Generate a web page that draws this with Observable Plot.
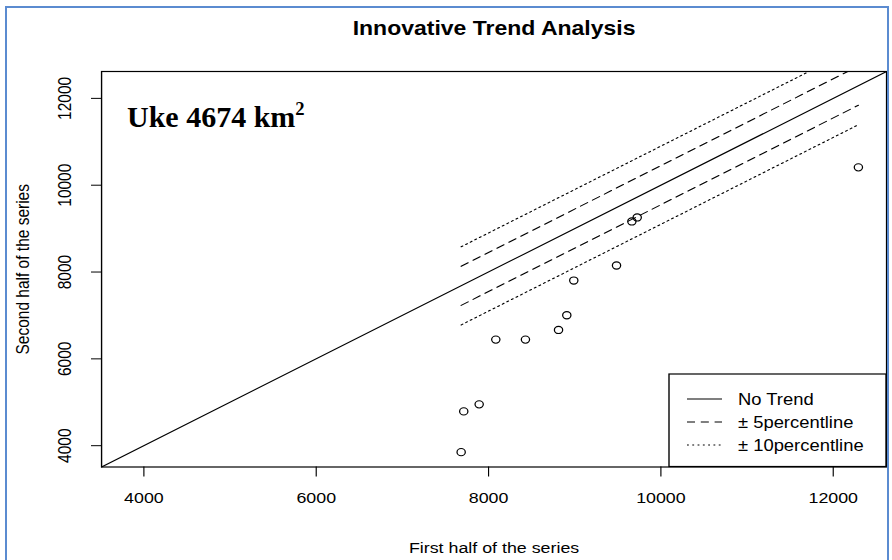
<!DOCTYPE html>
<html>
<head>
<meta charset="utf-8">
<script src="https://cdn.jsdelivr.net/npm/d3@7"></script>
<script src="https://cdn.jsdelivr.net/npm/@observablehq/plot@0.6"></script>
<style>
  html, body { margin: 0; padding: 0; background: #fff; }
  #wrap { position: relative; width: 892px; height: 560px; overflow: hidden; background: #fff; }
  #border { position: absolute; left: 5px; top: 6px; width: 884px; height: 620px; border: 2px solid #5b8bd0; box-sizing: border-box; pointer-events: none; }
  #chart { position: absolute; left: 0; top: 0; }
  #station { position: absolute; left: 127px; top: 102px; font: bold 30px "Liberation Serif", "Times New Roman", serif; color: #000; white-space: nowrap; line-height: 1; }
  #station sup { font-size: 0.62em; vertical-align: 0.62em; line-height: 0; }
</style>
</head>
<body>
<div id="wrap">
  <div id="chart"></div>
  <div id="station">Uke 4674 km<sup>2</sup></div>
  <div id="border"></div>
</div>
<script>
// ---- data ----
const titleText = "Innovative Trend Analysis";
const xLabel = "First half of the series";
const yLabel = "Second half of the series";
const xTicks = [4000, 6000, 8000, 10000, 12000];
const yTicks = [4000, 6000, 8000, 10000, 12000];
const axisDomain = [3509, 12619];
// sorted first half vs sorted second half
const firstHalf  = [7682, 7712, 7891, 8084, 8428, 8812, 8908, 8989, 9485, 9663, 9725, 12292];
const secondHalf = [3851, 4790, 4952, 6443, 6443, 6666, 7005, 7804, 8150, 9165, 9257, 10411];
// percentile bands (offset from the 1:1 line)
const bandOffsets = [900, 450, -450, -900];
const bandKinds   = ["10", "5", "5", "10"];
const legendLabels = ["No Trend", "\u00B1 5percentline", "\u00B1 10percentline"];

// ---- build ----
const S = 1.15;              // horizontal stretch of the original R image
const W0 = 892 / S;
const points = firstHalf.map((x, i) => ({x, y: secondHalf[i]}));
const diag = axisDomain.map(v => ({x: v, y: v}));
const x0 = d3.min(firstHalf), x1 = d3.max(firstHalf);
const bands = bandOffsets.flatMap((o, i) => [
  {band: i, kind: bandKinds[i], x: x0, y: x0 + o},
  {band: i, kind: bandKinds[i], x: x1, y: x1 + o}
]);
const dash = {"5": "7,5", "10": "1.6,3"};

const ml = 101, mr = 6, mt = 71, mb = 560 - 466.5;

const plot = Plot.plot({
  width: W0,
  height: 560,
  marginLeft: ml / S,
  marginRight: mr / S,
  marginTop: mt,
  marginBottom: mb,
  x: {domain: axisDomain},
  y: {domain: axisDomain},
  style: {fontFamily: "'Liberation Sans', Arial, sans-serif", fontSize: "15px", color: "#000", background: "transparent"},
  marks: [
    Plot.line(diag, {x: "x", y: "y", stroke: "black", strokeWidth: 1.1}),
    ...["5", "10"].map(k => Plot.line(bands.filter(d => d.kind === k), {
      x: "x", y: "y", z: "band", stroke: "black", strokeWidth: 1.1,
      strokeDasharray: dash[k], clip: true
    })),
    Plot.dot(points, {x: "x", y: "y", r: 3.6, stroke: "black", fill: "none", strokeWidth: 1.1}),
    Plot.frame({stroke: "black", strokeWidth: 1.2}),
    Plot.axisX({ticks: xTicks, tickSize: 10, tickPadding: 15, tickFormat: d => String(d), label: null, fontSize: 15.5}),
    Plot.axisY({ticks: yTicks, tickSize: 10 / S, tickFormat: () => "", label: null}),
    Plot.text(yTicks, {y: d => d, text: d => String(d), frameAnchor: "left", rotate: -90,
      dx: (65 - ml) / S, textAnchor: "middle", lineAnchor: "middle", fontSize: 15.5}),
    Plot.text([titleText], {frameAnchor: "top", dy: 28 - mt, lineAnchor: "middle",
      fontWeight: "bold", fontSize: 20}),
    Plot.text([xLabel], {frameAnchor: "bottom", dy: 548 - 466.5, lineAnchor: "middle", fontSize: 15.5}),
    Plot.text([yLabel], {frameAnchor: "left", rotate: -90, dx: (23 - ml) / S, lineAnchor: "middle",
      textAnchor: "middle", fontSize: 15.5})
  ]
});

// stretch horizontally like the reference image
plot.setAttribute("width", 892);
plot.setAttribute("height", 560);
plot.setAttribute("preserveAspectRatio", "none");
plot.style.width = "892px";
plot.style.height = "560px";
plot.style.maxWidth = "none";

// legend (drawn in the same stretched space)
const svg = d3.select(plot);
const lg = svg.append("g")
  .attr("font-family", "'Liberation Sans', Arial, sans-serif")
  .attr("font-size", 16)
  .attr("text-anchor", "start");
const lx0 = 669 / S, lx1 = 886 / S, ly0 = 374, ly1 = 466.5;
lg.append("rect").attr("x", lx0).attr("y", ly0).attr("width", lx1 - lx0).attr("height", ly1 - ly0)
  .attr("fill", "white").attr("stroke", "black").attr("stroke-width", 1.2);
const rows = [399, 422, 445];
const styles = [null, dash["5"], dash["10"]];
legendLabels.forEach((t, i) => {
  lg.append("line").attr("x1", 687 / S).attr("x2", 722 / S).attr("y1", rows[i]).attr("y2", rows[i])
    .attr("stroke", "black").attr("stroke-width", 1.1).attr("stroke-dasharray", styles[i]);
  lg.append("text").attr("x", 738 / S).attr("y", rows[i]).attr("dy", "0.35em")
    .attr("text-anchor", "start").text(t);
});

document.getElementById("chart").appendChild(plot);
</script>
</body>
</html>
